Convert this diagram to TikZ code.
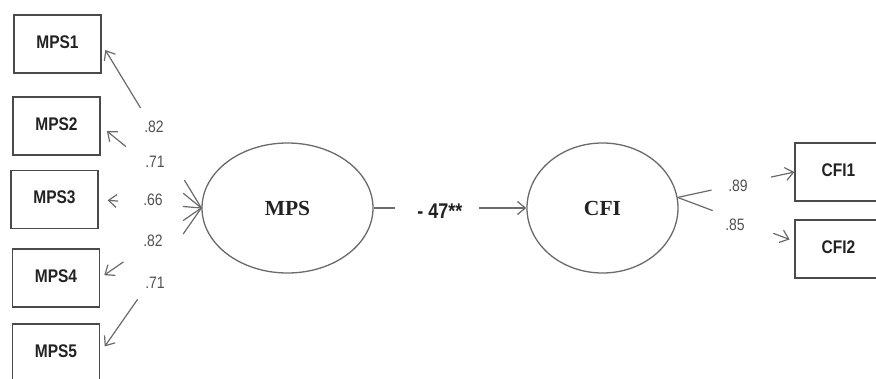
\documentclass[tikz,border=0pt]{standalone}
\usepackage{fontspec}
\setmainfont{Liberation Serif}
\setsansfont{Liberation Sans}
\usetikzlibrary{calc,arrows.meta,shapes.geometric}
\definecolor{edgegray}{HTML}{6A6A6A}
\definecolor{boxgray}{HTML}{4A4A4A}
\definecolor{inkgray}{HTML}{222222}
\definecolor{numgray}{HTML}{505050}
\newcommand\tallt[1]{\scalebox{1}[1.18]{#1}}
\newcommand\boxtext[1]{\raisebox{4pt}{\scalebox{1}[1.18]{#1}}}
\tikzset{
  indicator/.style={draw=boxgray, line width=1.3pt, minimum width=87pt, minimum height=58pt,
    inner sep=0pt, font=\sffamily\bfseries\fontsize{15.5}{17}\selectfont, text=inkgray},
  latent/.style={ellipse, draw=edgegray, line width=1.3pt, inner sep=0pt,
    font=\rmfamily\bfseries\fontsize{21.5}{24}\selectfont, text=inkgray},
  loading/.style={font=\sffamily\fontsize{14}{16}\selectfont, text=numgray, inner sep=1pt},
  pathline/.style={draw=edgegray, line width=1.2pt},
  patharrow/.style={pathline, -{Straight Barb[length=8pt,width=13pt,line width=1.2pt]}},
}
\begin{document}
\begin{tikzpicture}[x=1pt,y=-1pt]
  \useasboundingbox (0,0) rectangle (876,378);
  \clip (0,0) rectangle (876,378);

  % observed indicators of MPS
  \node[indicator] (m1) at (57.5,44)  {\boxtext{MPS1}};
  \node[indicator] (m2) at (56.5,126) {\boxtext{MPS2}};
  \node[indicator] (m3) at (54.5,199.5) {\boxtext{MPS3}};
  \node[indicator] (m4) at (56,278)   {\boxtext{MPS4}};
  \node[indicator] (m5) at (56,353)   {\boxtext{MPS5}};

  % latent factors
  \node[latent, minimum width=171pt, minimum height=130pt] (MPS) at (287.5,208) {MPS};
  \node[latent, minimum width=151pt, minimum height=130pt] (CFI) at (602.5,208) {CFI};

  % observed indicators of CFI
  \node[indicator] (c1) at (838.5,172) {\boxtext{CFI1}};
  \node[indicator] (c2) at (838.5,249) {\boxtext{CFI2}};

  % loadings MPS -> indicators (each line broken around its value)
  \foreach \ind/\gapA/\gapB/\cut in {m1/.17/.61/7pt, m2/.18/.75/8pt, m3/.18/.81/9pt, m4/.18/.77/5pt, m5/.18/.63/8pt}{
    \draw[pathline] (MPS.west) -- ($(MPS.west)!\gapA!(\ind.east)$);
    \draw[patharrow, shorten >=\cut] ($(MPS.west)!\gapB!(\ind.east)$) -- (\ind.east);
  }
  \node[loading] (l1) at (154,127) {\tallt{.82}};
  \node[loading] (l2) at (155,162) {\tallt{.71}};
  \node[loading] (l3) at (153,200) {\tallt{.66}};
  \node[loading] (l4) at (153,241) {\tallt{.82}};
  \node[loading] (l5) at (155,283) {\tallt{.71}};

  % structural path MPS -> CFI
  \draw[pathline] (MPS.east) -- ($(MPS.east)!.14!(CFI.west)$);
  \draw[patharrow] ($(MPS.east)!.69!(CFI.west)$) -- (CFI.west);
  \node[font=\sffamily\bfseries\fontsize{18}{20}\selectfont, text=inkgray] (beta) at (440,211) {\tallt{- 47**}};

  % loadings CFI -> indicators
  \draw[pathline] (CFI.8) -- ($(CFI.8)!.29!(c1.west)$);
  \draw[patharrow] ($(CFI.8)!.8!(c1.west)$) -- (c1.west);
  \draw[pathline] (CFI.8) -- ($(CFI.8)!.3!(c2.170)$);
  \draw[patharrow, shorten >=5pt] ($(CFI.8)!.82!(c2.170)$) -- (c2.170);
  \node[loading] (l6) at (738,186) {\tallt{.89}};
  \node[loading] (l7) at (735,225) {\tallt{.85}};
\end{tikzpicture}
\end{document}
